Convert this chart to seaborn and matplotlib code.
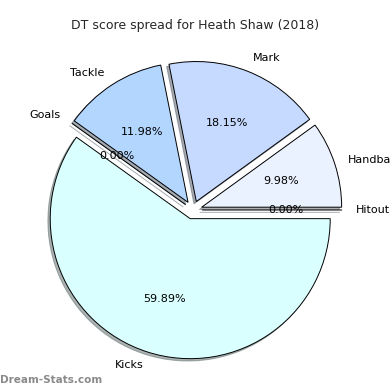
import matplotlib
matplotlib.use("Agg")
import matplotlib.pyplot as plt
import seaborn as sns

sns.set_theme(style="white")
plt.rcParams['font.family'] = ['DejaVu Sans']

categories = ["Hitout", "Handball", "Mark", "Tackle", "Goals", "Kicks"]
values = [0.0, 9.98, 18.15, 11.98, 0.0, 59.89]
colors = ["#d0e4ff", "#eaf2ff", "#c6d9ff", "#b3d6ff", "#c0dcff", "#d9ffff"]
explode = [0.065] * len(values)

fig = plt.figure(figsize=(3.9, 3.9), dpi=100)
ax = fig.add_axes([18 / 390, 5 / 390, 350 / 390, 350 / 390])
wedges, texts, autotexts = ax.pie(
    values, labels=categories, colors=colors, explode=explode,
    autopct="%1.2f%%", startangle=0,
    shadow={"ox": -0.012, "oy": -0.012, "shade": 0.6},
    labeldistance=1.1,
    wedgeprops=dict(edgecolor="black", linewidth=0.7),
    textprops=dict(fontsize=8, color="black"),
)
ax.set_aspect("equal")
fig.text(0.5, 1 - 25 / 390, "DT score spread for Heath Shaw (2018)",
         ha="center", va="center", fontsize=9)
fig.text(0.0, 1 - 380 / 390, "Dream-Stats.com", ha="left", va="center",
         fontsize=7.5, fontweight="bold", color="#8a8a8a")
fig.savefig("out.png", dpi=100)
